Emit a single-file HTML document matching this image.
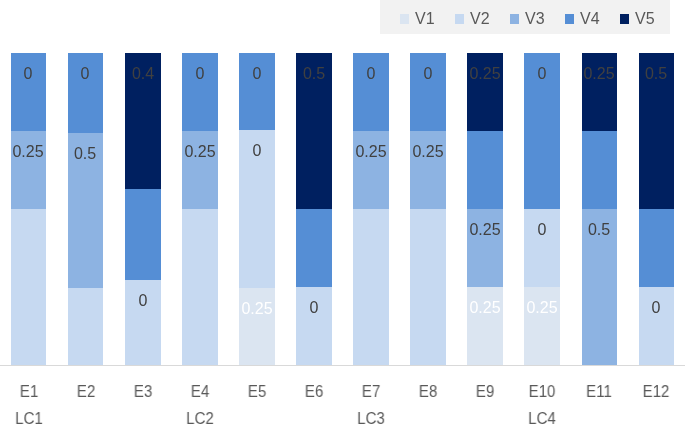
<!DOCTYPE html>
<html><head><meta charset="utf-8"><style>
html,body{margin:0;padding:0;background:#fff;}
body{width:685px;height:424px;position:relative;overflow:hidden;font-family:"Liberation Sans",sans-serif;-webkit-font-smoothing:antialiased;}
.t{will-change:transform;}
.al{will-change:transform;transform:scaleX(0.94);}
.lt{will-change:transform;}
.s{position:absolute;}
.t{position:absolute;white-space:nowrap;font-size:16px;line-height:20px;height:20px;text-align:center;}
.lg{position:absolute;left:380px;top:0;width:290px;height:33.6px;background:#F2F2F2;}
.mk{position:absolute;width:9.3px;height:9.4px;}
.lt{position:absolute;font-size:16px;line-height:20px;height:20px;color:#595959;white-space:nowrap;}
.ax{position:absolute;left:0;top:364.5px;width:685px;height:1px;background:#D9D9D9;}
.al{position:absolute;font-size:16px;line-height:20px;height:20px;color:#595959;white-space:nowrap;text-align:center;width:60px;}
</style></head><body>

<div class="s" style="left:10.70px;top:53.00px;width:35.68px;height:78.00px;background:#558ED5"></div>
<div class="s" style="left:10.70px;top:131.00px;width:35.68px;height:77.80px;background:#8DB3E2"></div>
<div class="s" style="left:10.70px;top:208.80px;width:35.68px;height:156.20px;background:#C6D9F1"></div>
<div class="s" style="left:67.78px;top:53.00px;width:35.68px;height:80.10px;background:#558ED5"></div>
<div class="s" style="left:67.78px;top:133.10px;width:35.68px;height:154.90px;background:#8DB3E2"></div>
<div class="s" style="left:67.78px;top:288.00px;width:35.68px;height:77.00px;background:#C6D9F1"></div>
<div class="s" style="left:124.86px;top:53.00px;width:35.68px;height:135.60px;background:#002060"></div>
<div class="s" style="left:124.86px;top:188.60px;width:35.68px;height:91.40px;background:#558ED5"></div>
<div class="s" style="left:124.86px;top:280.00px;width:35.68px;height:85.00px;background:#C6D9F1"></div>
<div class="s" style="left:181.94px;top:53.00px;width:35.68px;height:78.00px;background:#558ED5"></div>
<div class="s" style="left:181.94px;top:131.00px;width:35.68px;height:77.80px;background:#8DB3E2"></div>
<div class="s" style="left:181.94px;top:208.80px;width:35.68px;height:156.20px;background:#C6D9F1"></div>
<div class="s" style="left:239.02px;top:53.00px;width:35.68px;height:76.90px;background:#558ED5"></div>
<div class="s" style="left:239.02px;top:129.90px;width:35.68px;height:158.10px;background:#C6D9F1"></div>
<div class="s" style="left:239.02px;top:288.00px;width:35.68px;height:77.00px;background:#DBE5F1"></div>
<div class="s" style="left:296.10px;top:53.00px;width:35.68px;height:155.80px;background:#002060"></div>
<div class="s" style="left:296.10px;top:208.80px;width:35.68px;height:78.20px;background:#558ED5"></div>
<div class="s" style="left:296.10px;top:287.00px;width:35.68px;height:78.00px;background:#C6D9F1"></div>
<div class="s" style="left:353.18px;top:53.00px;width:35.68px;height:78.00px;background:#558ED5"></div>
<div class="s" style="left:353.18px;top:131.00px;width:35.68px;height:77.80px;background:#8DB3E2"></div>
<div class="s" style="left:353.18px;top:208.80px;width:35.68px;height:156.20px;background:#C6D9F1"></div>
<div class="s" style="left:410.26px;top:53.00px;width:35.68px;height:78.00px;background:#558ED5"></div>
<div class="s" style="left:410.26px;top:131.00px;width:35.68px;height:77.80px;background:#8DB3E2"></div>
<div class="s" style="left:410.26px;top:208.80px;width:35.68px;height:156.20px;background:#C6D9F1"></div>
<div class="s" style="left:467.34px;top:53.00px;width:35.68px;height:78.00px;background:#002060"></div>
<div class="s" style="left:467.34px;top:131.00px;width:35.68px;height:77.80px;background:#558ED5"></div>
<div class="s" style="left:467.34px;top:208.80px;width:35.68px;height:78.20px;background:#8DB3E2"></div>
<div class="s" style="left:467.34px;top:287.00px;width:35.68px;height:78.00px;background:#DBE5F1"></div>
<div class="s" style="left:524.42px;top:53.00px;width:35.68px;height:155.80px;background:#558ED5"></div>
<div class="s" style="left:524.42px;top:208.80px;width:35.68px;height:78.20px;background:#C6D9F1"></div>
<div class="s" style="left:524.42px;top:287.00px;width:35.68px;height:78.00px;background:#DBE5F1"></div>
<div class="s" style="left:581.50px;top:53.00px;width:35.68px;height:78.00px;background:#002060"></div>
<div class="s" style="left:581.50px;top:131.00px;width:35.68px;height:77.80px;background:#558ED5"></div>
<div class="s" style="left:581.50px;top:208.80px;width:35.68px;height:156.20px;background:#8DB3E2"></div>
<div class="s" style="left:638.58px;top:53.00px;width:35.68px;height:155.80px;background:#002060"></div>
<div class="s" style="left:638.58px;top:208.80px;width:35.68px;height:78.20px;background:#558ED5"></div>
<div class="s" style="left:638.58px;top:287.00px;width:35.68px;height:78.00px;background:#C6D9F1"></div>
<div class="t" style="left:-1.66px;top:64.13px;width:60px;color:#404040">0</div>
<div class="t" style="left:-1.66px;top:142.13px;width:60px;color:#404040">0.25</div>
<div class="t" style="left:55.42px;top:64.13px;width:60px;color:#404040">0</div>
<div class="t" style="left:55.42px;top:144.23px;width:60px;color:#404040">0.5</div>
<div class="t" style="left:112.50px;top:64.13px;width:60px;color:#404040">0.4</div>
<div class="t" style="left:112.50px;top:291.13px;width:60px;color:#404040">0</div>
<div class="t" style="left:169.58px;top:64.13px;width:60px;color:#404040">0</div>
<div class="t" style="left:169.58px;top:142.13px;width:60px;color:#404040">0.25</div>
<div class="t" style="left:226.66px;top:64.13px;width:60px;color:#404040">0</div>
<div class="t" style="left:226.66px;top:141.03px;width:60px;color:#404040">0</div>
<div class="t" style="left:226.66px;top:299.13px;width:60px;color:#FFFFFF">0.25</div>
<div class="t" style="left:283.74px;top:64.13px;width:60px;color:#404040">0.5</div>
<div class="t" style="left:283.74px;top:298.13px;width:60px;color:#404040">0</div>
<div class="t" style="left:340.82px;top:64.13px;width:60px;color:#404040">0</div>
<div class="t" style="left:340.82px;top:142.13px;width:60px;color:#404040">0.25</div>
<div class="t" style="left:397.90px;top:64.13px;width:60px;color:#404040">0</div>
<div class="t" style="left:397.90px;top:142.13px;width:60px;color:#404040">0.25</div>
<div class="t" style="left:454.98px;top:64.13px;width:60px;color:#404040">0.25</div>
<div class="t" style="left:454.98px;top:219.93px;width:60px;color:#404040">0.25</div>
<div class="t" style="left:454.98px;top:298.13px;width:60px;color:#FFFFFF">0.25</div>
<div class="t" style="left:512.06px;top:64.13px;width:60px;color:#404040">0</div>
<div class="t" style="left:512.06px;top:219.93px;width:60px;color:#404040">0</div>
<div class="t" style="left:512.06px;top:298.13px;width:60px;color:#FFFFFF">0.25</div>
<div class="t" style="left:569.14px;top:64.13px;width:60px;color:#404040">0.25</div>
<div class="t" style="left:569.14px;top:219.93px;width:60px;color:#404040">0.5</div>
<div class="t" style="left:626.22px;top:64.13px;width:60px;color:#404040">0.5</div>
<div class="t" style="left:626.22px;top:298.13px;width:60px;color:#404040">0</div>
<div class="ax"></div>
<div class="al" style="left:-1.46px;top:382.16px">E1</div>
<div class="al" style="left:55.62px;top:382.16px">E2</div>
<div class="al" style="left:112.70px;top:382.16px">E3</div>
<div class="al" style="left:169.78px;top:382.16px">E4</div>
<div class="al" style="left:226.86px;top:382.16px">E5</div>
<div class="al" style="left:283.94px;top:382.16px">E6</div>
<div class="al" style="left:341.02px;top:382.16px">E7</div>
<div class="al" style="left:398.10px;top:382.16px">E8</div>
<div class="al" style="left:455.18px;top:382.16px">E9</div>
<div class="al" style="left:512.26px;top:382.16px">E10</div>
<div class="al" style="left:569.34px;top:382.16px">E11</div>
<div class="al" style="left:626.42px;top:382.16px">E12</div>
<div class="al" style="left:-1.46px;top:408.56px">LC1</div>
<div class="al" style="left:169.78px;top:408.56px">LC2</div>
<div class="al" style="left:341.02px;top:408.56px">LC3</div>
<div class="al" style="left:512.26px;top:408.56px">LC4</div>
<div class="lg"></div>
<div class="mk" style="left:399.80px;top:14.3px;background:#DBE5F1"></div>
<div class="lt" style="left:414.90px;top:8.76px">V1</div>
<div class="mk" style="left:454.75px;top:14.3px;background:#C6D9F1"></div>
<div class="lt" style="left:469.85px;top:8.76px">V2</div>
<div class="mk" style="left:509.70px;top:14.3px;background:#8DB3E2"></div>
<div class="lt" style="left:524.80px;top:8.76px">V3</div>
<div class="mk" style="left:564.65px;top:14.3px;background:#558ED5"></div>
<div class="lt" style="left:579.75px;top:8.76px">V4</div>
<div class="mk" style="left:619.60px;top:14.3px;background:#002060"></div>
<div class="lt" style="left:634.70px;top:8.76px">V5</div>
</body></html>
